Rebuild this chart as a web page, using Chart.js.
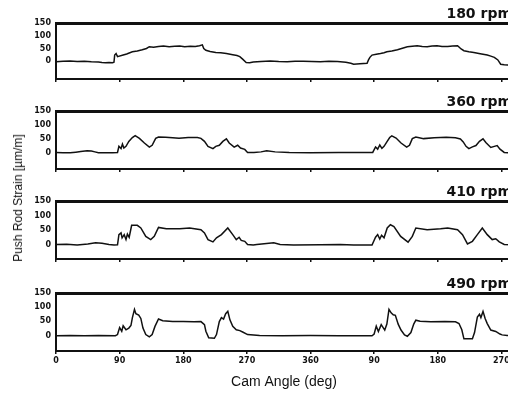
<!DOCTYPE html>
<html><head><meta charset="utf-8">
<script src="https://cdn.jsdelivr.net/npm/chart.js@4"></script>
<style>
html,body{margin:0;padding:0;background:#fff;width:508px;height:394px;overflow:hidden;}
#wrap{position:relative;width:508px;height:394px;overflow:hidden;background:#fff;}
canvas{position:absolute;left:0;top:0;}
#ylab{position:absolute;left:18px;top:198px;transform:translate(-50%,-50%) rotate(-90deg);font:12px 'Liberation Sans',Arial,sans-serif;white-space:nowrap;color:#111;}
</style></head><body>
<div id="wrap">
<canvas id="c1" width="512" height="394"></canvas>
<canvas id="c2" width="512" height="394"></canvas>
<canvas id="c3" width="512" height="394"></canvas>
<canvas id="c4" width="512" height="394"></canvas>
<div id="ylab">Push Rod Strain [µm/m]</div>
</div>
<script>
const xTickValues = [0,90,180,270,360,450,540,630];
const xTickLabels = ["0","90","180","270","360","90","180","270"];
const yTickValues = [0,50,100,150];
const rpmLabels = ["180 rpm","360 rpm","410 rpm","490 rpm"];
const xAxisTitle = "Cam Angle (deg)";

const angle180 = [0,10,20,30,40,50,60,65,70,75,80,82,83,85,87,95,100,108,115,122,128,132,138,145,152,160,168,175,182,190,197,203,207,209,212,218,226,233,241,250,256,260,264,269,274,279,290,303,315,327,338,350,362,374,386,398,410,417,421,430,440,442,444,447,453,459,464,468,475,483,490,497,504,511,518,525,532,539,546,554,561,568,570,573,577,584,591,600,610,615,620,625,629,634,639,645];
const strain180 = [-2,0,1,-1,0,-2,-3,-5,-6,-5,-6,-4,24,30,18,24,28,37,40,45,50,57,55,58,60,57,59,60,57,59,58,61,64,50,43,38,34,33,30,25,22,18,8,-5,-6,-3,-1,1,-1,-2,0,0,-1,-2,0,-1,-4,-8,-12,-10,-8,5,15,24,27,30,33,37,40,45,51,57,59,61,58,57,60,61,58,58,60,61,56,48,41,37,34,29,24,20,15,5,-12,-14,-15,-14];

const angle360 = [0,10,20,28,35,44,50,55,60,70,80,87,89,92,94,96,99,103,108,112,118,125,132,136,141,145,155,165,174,187,200,205,210,215,222,226,231,236,241,245,252,257,261,267,271,280,290,298,310,330,360,400,430,448,452,455,458,461,464,468,472,475,481,488,496,500,504,509,520,535,552,565,572,576,580,584,589,594,599,604,608,615,620,624,628,634,645];
const strain360 = [0,-1,-1,1,3,6,5,2,-1,-1,-1,0,22,14,30,16,22,40,54,61,51,34,19,26,51,56,55,53,51,54,54,51,40,22,14,22,26,40,49,34,19,26,16,11,0,0,2,6,2,0,-1,0,0,0,20,12,27,15,22,38,54,60,52,34,19,26,50,56,50,53,55,53,49,38,22,14,20,25,40,49,36,18,22,25,12,0,-2];

const angle410 = [0,15,30,45,56,65,75,82,87,89,92,93.5,96.5,99,101,103.5,107,115,120,127,134,139,145,156,175,189,205,210,215,222,227,234,243,250,255,259,262,267,271,279,284,308,317,336,374,402,421,447,452,455,458,460.5,464,468.5,473,478,487.5,498,504,509,525,544,554,568,575,582,589,596,603,610,617,622,627,634,645];
const strain410 = [0,1,-2,2,6,4,0,-2,-1,34,40,23,34,17,36,25,66,66,57,28,17,28,59,54,54,57,51,40,17,9,23,34,57,34,17,25,14,11,0,-2,0,6,0,-2,-1,0,-2,-2,25,34,19,32,23,57,68,62,28,8,28,57,51,54,57,51,34,2,11,34,57,34,17,20,9,0,-1];

const angle490 = [0,20,40,60,84,87,90,93,95,99,103,106,108,111,113,117,120,123,127,132,136,140,145,151,165,180,195,205,210,212,216,224,227,231,234,237,240,243,246,250,255,260,264,271,288,320,360,400,447,450,453,456,460,465,468,471,474,477,480,484,488,493,497,502,506,509,515,530,550,565,570,574,577,589,592,596,599,601,604,607,610,615,622,628,631,638,645];
const strain490 = [-1,0,-1,0,-1,3,28,15,34,20,26,35,62,92,77,72,60,26,3,-5,3,32,58,52,49,49,48,49,38,15,-8,-10,3,49,63,58,77,85,55,32,20,17,12,3,0,-1,0,-1,-1,5,33,14,38,19,40,92,80,73,71,40,19,2,-3,10,40,54,50,48,49,48,42,20,-12,-12,10,65,75,63,85,60,42,19,14,5,2,0,0];

const X_MAX = 645;
const INK = '#111';
const tickFont = {family:'DejaVu Sans', size:8, weight:'bold'};

function makePanel(id, angles, strains, title, yMin, top, bottom, isLast){
  const xH = isLast ? 40 : 3;
  const padBottom = 394 - bottom - xH;
  const titleH = 14*1.2;
  new Chart(document.getElementById(id), {
    type:'line',
    data:{datasets:[{
      data: angles.map((a,i)=>({x:a, y:strains[i]})),
      borderColor: INK, borderWidth: 1.5, pointRadius: 0, tension: 0, fill: false
    }]},
    options:{
      responsive:false, animation:false, devicePixelRatio:1,
      layout:{padding:{top: top - titleH, bottom: padBottom, left:0, right:0}},
      plugins:{
        legend:{display:false}, tooltip:{enabled:false},
        title:{display:true, text:title, align:'end', color:INK,
          font:{family:'DejaVu Sans', size:14, weight:'bold'}, padding:{top:0,bottom:0}}
      },
      scales:{
        x:{type:'linear', position:'bottom', min:0, max:X_MAX,
          afterBuildTicks:(s)=>{ s.ticks = xTickValues.map(v=>({value:v})); },
          afterFit:(s)=>{ s.height = xH; },
          grid:{display:true, drawOnChartArea:false, drawTicks:true, tickLength:3, color:INK, lineWidth:1.5},
          border:{display:true, width:2, color:INK},
          ticks:{display:isLast, padding:2, font:tickFont, color:INK, maxRotation:0, autoSkip:false,
            callback:(v)=>{ const i = xTickValues.indexOf(v); return i>=0 ? xTickLabels[i] : ''; }},
          title:{display:isLast, text:xAxisTitle, color:INK, padding:{top:0,bottom:0},
            font:{family:'Liberation Sans', size:14, weight:'normal'}}
        },
        xTop:{type:'linear', position:'top', min:0, max:X_MAX,
          afterFit:(s)=>{ s.height = 0; },
          grid:{display:false}, ticks:{display:false},
          border:{display:true, width:3, color:INK}
        },
        y:{type:'linear', position:'left', min:yMin, max:150,
          afterBuildTicks:(s)=>{ s.ticks = yTickValues.map(v=>({value:v})); },
          afterFit:(s)=>{ s.width = 56; },
          grid:{display:true, drawOnChartArea:false, drawTicks:false},
          border:{display:true, width:2, color:INK},
          ticks:{padding:5, font:tickFont, color:INK}
        }
      }
    }
  });
}

makePanel('c1', angle180, strain180, rpmLabels[0], -70, 23, 79, false);
makePanel('c2', angle360, strain360, rpmLabels[1], -60, 111, 169, false);
makePanel('c3', angle410, strain410, rpmLabels[2], -50, 201, 259, false);
makePanel('c4', angle490, strain490, rpmLabels[3], -55, 293, 351, true);
</script>
</body></html>
